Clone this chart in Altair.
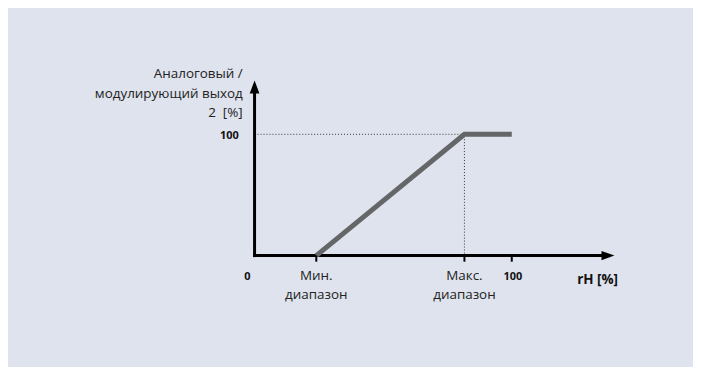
import altair as alt
import pandas as pd

# output curve (rH % -> output %)
curve_x = [24, 81.6, 100]
curve_y = [0, 100, 100]

# guide (dotted) lines
guide_x = [0, 81.6, 81.6]
guide_y = [100, 100, 0]

# x tick positions
tick_x = [24, 81.6, 100]

# axis extents / arrow heads
x_axis_end = 137
y_axis_end = 138
x_arrow = 137.4
y_arrow = 139

# tick/label texts
num_labels = ["0", "100", "100"]
num_x = [-2.8, -6.1, 100.4]
num_y = [-17.5, 98.6, -17.5]
num_align = ["center", "right", "center"]

x_title = "rH [%]"
x_title_pos = [133.4, -20]

range_labels = [["Мин.", "диапазон"], ["Макс.", "диапазон"]]
range_x = [24, 81.6]
range_y = [-11.5, -11.5]

y_title = ["Аналоговый /", "модулирующий выход", "2\u00a0 [%]"]
y_title_pos = [-4.6, 150]

FONT = "Open Sans"
BG = "#dfe3ed"

xs = alt.Scale(domain=[0, 100], range=[248, 506.7])
ys = alt.Scale(domain=[0, 100], range=[248, 126])
X = lambda f: alt.X(f, scale=xs, axis=None)
Y = lambda f: alt.Y(f, scale=ys, axis=None)

curve = alt.Chart(pd.DataFrame({"x": curve_x, "y": curve_y})).mark_line(
    color="#646667", strokeWidth=5, strokeCap="butt", strokeJoin="miter"
).encode(x=X("x:Q"), y=Y("y:Q"))

guide = alt.Chart(pd.DataFrame({"x": guide_x, "y": guide_y, "o": [0, 1, 2]})).mark_line(
    color="#333333", strokeWidth=1, strokeDash=[1, 2]
).encode(x=X("x:Q"), y=Y("y:Q"), order="o:O")

axes_df = pd.DataFrame({
    "x": [0, 0], "y": [0, 0], "x2": [x_axis_end, 0], "y2": [0, y_axis_end]
})
axes = alt.Chart(axes_df).mark_rule(color="black", strokeWidth=3, strokeCap="square").encode(
    x=X("x:Q"), y=Y("y:Q"), x2="x2:Q", y2="y2:Q"
)

arrows_df = pd.DataFrame({
    "x": [x_arrow, 0], "y": [0, y_arrow],
    "shape": ["M1,0L-1,-0.7L-1,0.7Z", "M0,-1L0.75,1L-0.75,1Z"],
})
arrows = alt.Chart(arrows_df).mark_point(
    filled=True, color="black", size=169, opacity=1, strokeWidth=0
).encode(
    x=X("x:Q"), y=Y("y:Q"),
    shape=alt.Shape("shape:N", scale=None)
)

ticks = alt.Chart(pd.DataFrame({"x": tick_x, "y": [0] * 3, "y2": [-5] * 3})).mark_rule(
    color="black", strokeWidth=2
).encode(x=X("x:Q"), y=Y("y:Q"), y2="y2:Q")

num_df = pd.DataFrame({"t": num_labels, "x": num_x, "y": num_y, "a": num_align})
num_layers = []
for a in ["center", "right"]:
    num_layers.append(
        alt.Chart(num_df[num_df.a == a]).mark_text(
            font=FONT, fontWeight="bold", fontSize=11, align=a, baseline="middle", color="#111111"
        ).encode(x=X("x:Q"), y=Y("y:Q"), text="t:N")
    )

xtitle = alt.Chart(pd.DataFrame({"t": [x_title], "x": [x_title_pos[0]], "y": [x_title_pos[1]]})).mark_text(
    font=FONT, fontWeight="bold", fontSize=13.5, align="center", baseline="middle", color="#111111"
).encode(x=X("x:Q"), y=Y("y:Q"), text="t:N")

range_df = pd.DataFrame({"t": range_labels, "x": range_x, "y": range_y})
ranges = alt.Chart(range_df).mark_text(
    font=FONT, fontSize=13.5, align="center", baseline="top", lineHeight=19, color="#222222"
).encode(x=X("x:Q"), y=Y("y:Q"), text="t")

ytitle = alt.Chart(pd.DataFrame({"t": [y_title], "x": [y_title_pos[0]], "y": [y_title_pos[1]]})).mark_text(
    font=FONT, fontSize=13.5, align="right", baseline="middle", lineHeight=20, color="#222222"
).encode(x=X("x:Q"), y=Y("y:Q"), text="t")

chart = alt.layer(guide, axes, curve, ticks, arrows, ranges, ytitle, xtitle, *num_layers).properties(
    width=689, height=359, background=BG, padding=0,
    autosize=alt.AutoSizeParams(type="none")
).configure_view(stroke=None)

chart.save("out.html", embed_options={"renderer": "svg", "actions": False})
